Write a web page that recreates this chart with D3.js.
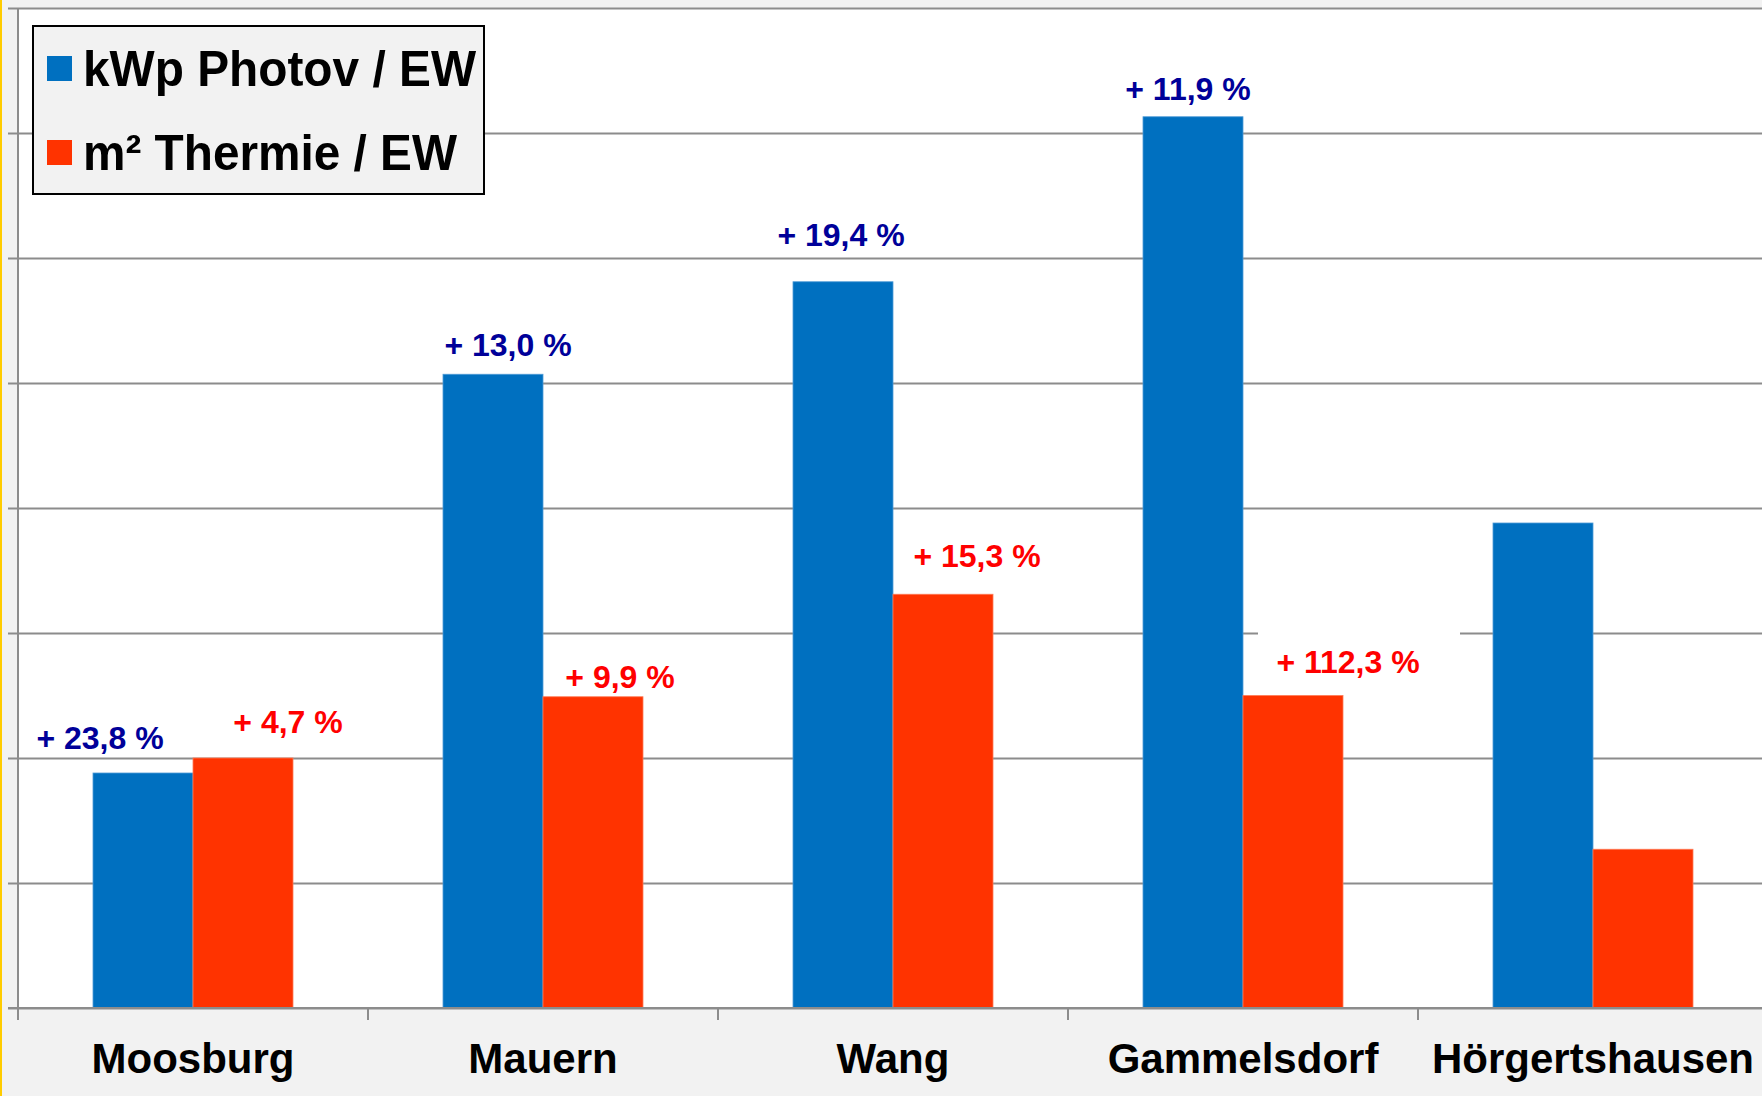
<!DOCTYPE html>
<html>
<head>
<meta charset="utf-8">
<script src="https://cdn.jsdelivr.net/npm/d3@7"></script>
<style>
  html, body { margin: 0; padding: 0; background: #f2f2f2; }
  svg { display: block; }
  text { font-family: "Liberation Sans", Arial, sans-serif; font-weight: bold; }
</style>
</head>
<body>
<svg id="chart" width="1762" height="1096"></svg>
<script>
// ---- data ----
const categories = ["Moosburg", "Mauern", "Wang", "Gammelsdorf", "Hörgertshausen"];
const seriesNames = ["kWp Photov / EW", "m² Thermie / EW"];
const photovValues = [1.88, 5.07, 5.81, 7.13, 3.88];
const thermieValues = [2.00, 2.49, 3.31, 2.50, 1.27];
const photovLabels = ["+ 23,8 %", "+ 13,0 %", "+ 19,4 %", "+ 11,9 %", ""];
const thermieLabels = ["+ 4,7 %", "+ 9,9 %", "+ 15,3 %", "+ 112,3 %", ""];
const yTicks = [0, 1, 2, 3, 4, 5, 6, 7, 8];

// ---- layout / style ----
const W = 1762, H = 1096;
const plotLeft = 18, plotRight = 1768, plotTop = 8, plotBottom = 1008;
const colors = ["#0070C0", "#FF3300"];
const labelColors = ["#000099", "#FF0000"];
// label offsets relative to bar centre / bar top (manual text boxes in original)
const photovLabelOffsets = [[-43, -24], [15, -18], [-2, -36], [-5, -17], [0, 0]];
const thermieLabelOffsets = [[45, -25], [27, -9], [34, -27], [55, -23], [0, 0]];

const svg = d3.select("#chart");

// plot area background
svg.append("rect").attr("x", plotLeft).attr("y", plotTop)
  .attr("width", W - plotLeft).attr("height", plotBottom - plotTop).attr("fill", "#ffffff");

// yellow left border
svg.append("rect").attr("x", 0).attr("y", 0).attr("width", 2).attr("height", H).attr("fill", "#FFCC00");

const x0 = d3.scaleBand().domain(categories).range([plotLeft, plotRight]).paddingInner(0).paddingOuter(0);
const x1 = d3.scaleBand().domain([0, 1]).range([0, x0.bandwidth()]).paddingInner(0).paddingOuter(0.75);
const y = d3.scaleLinear().domain([0, 8]).range([plotBottom, plotTop]);

// gridlines with left tick stubs
const grid = svg.append("g").attr("transform", `translate(${plotLeft - 10},0)`)
  .call(d3.axisRight(y).tickValues(yTicks).tickSize(W).tickFormat(""));
grid.select(".domain").remove();
grid.selectAll("line").attr("stroke", "#8c8c8c").attr("stroke-width", 2);

// y axis line
svg.append("line").attr("x1", plotLeft).attr("x2", plotLeft)
  .attr("y1", plotTop).attr("y2", plotBottom + 12)
  .attr("stroke", "#8c8c8c").attr("stroke-width", 2);

// category boundary ticks
const boundaries = categories.map(c => x0(c)).concat([plotRight]);
svg.append("g").selectAll("line").data(boundaries).join("line")
  .attr("x1", d => d).attr("x2", d => d)
  .attr("y1", plotBottom).attr("y2", plotBottom + 12)
  .attr("stroke", "#8c8c8c").attr("stroke-width", 2);

// bars
const seriesValues = [photovValues, thermieValues];
const barData = [];
categories.forEach((c, i) => {
  seriesValues.forEach((vals, s) => barData.push({ c, s, v: vals[i], i }));
});
svg.append("g").selectAll("rect").data(barData).join("rect")
  .attr("x", d => x0(d.c) + x1(d.s))
  .attr("y", d => y(d.v))
  .attr("width", x1.bandwidth())
  .attr("height", d => plotBottom - y(d.v))
  .attr("fill", d => colors[d.s])
  .attr("stroke", d => d.s === 0 ? "#4f9bd6" : "#ff7a55")
  .attr("stroke-width", 0.8);

// redraw baseline over bars
svg.append("line").attr("x1", plotLeft - 10).attr("x2", W)
  .attr("y1", y(0)).attr("y2", y(0)).attr("stroke", "#8c8c8c").attr("stroke-width", 2);

// white text box behind the Gammelsdorf thermie label
{
  const i = 3;
  const cx = x0(categories[i]) + x1(1) + x1.bandwidth() / 2 + thermieLabelOffsets[i][0];
  const by = y(thermieValues[i]) + thermieLabelOffsets[i][1];
  svg.append("rect").attr("x", cx - 90).attr("y", by - 52)
    .attr("width", 202).attr("height", 66).attr("fill", "#ffffff");
}

// data labels
const labelSets = [[photovLabels, photovLabelOffsets, photovValues], [thermieLabels, thermieLabelOffsets, thermieValues]];
labelSets.forEach(([labels, offs, vals], s) => {
  svg.append("g").selectAll("text").data(labels).join("text")
    .attr("x", (d, i) => x0(categories[i]) + x1(s) + x1.bandwidth() / 2 + offs[i][0])
    .attr("y", (d, i) => y(vals[i]) + offs[i][1])
    .attr("text-anchor", "middle")
    .attr("font-size", 32)
    .attr("fill", labelColors[s])
    .text(d => d);
});

// category labels
svg.append("g").selectAll("text").data(categories).join("text")
  .attr("x", d => x0(d) + x0.bandwidth() / 2)
  .attr("y", 1073)
  .attr("text-anchor", "middle")
  .attr("font-size", 42)
  .attr("fill", "#000000")
  .text(d => d);

// legend
const lg = svg.append("g");
lg.append("rect").attr("x", 33).attr("y", 26).attr("width", 451).attr("height", 168)
  .attr("fill", "#f2f2f2").attr("stroke", "#000000").attr("stroke-width", 2);
const legendWidths = [393, 374];
seriesNames.forEach((name, s) => {
  lg.append("rect").attr("x", 47).attr("y", 56 + s * 84).attr("width", 25).attr("height", 25)
    .attr("fill", colors[s]);
  lg.append("text").attr("x", 83).attr("y", 86 + s * 84)
    .attr("font-size", 50).attr("fill", "#000000")
    .attr("textLength", legendWidths[s]).attr("lengthAdjust", "spacingAndGlyphs")
    .text(name);
});
</script>
</body>
</html>
